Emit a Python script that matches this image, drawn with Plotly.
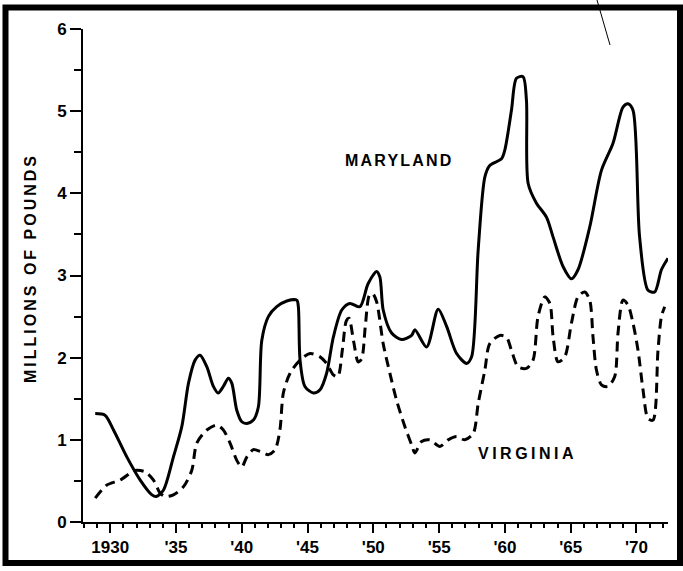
import plotly.graph_objects as go

# Maryland (solid) and Virginia (dashed), millions of pounds
maryland_years = [1928.86, 1929.6, 1930.25, 1931.27, 1932.28, 1933.17, 1933.5, 1934.05, 1934.8,
                  1935.44, 1935.95, 1936.45, 1936.83, 1937.34, 1937.84, 1938.2, 1938.6, 1938.98,
                  1939.24, 1939.62, 1940.0, 1940.38, 1940.88, 1941.26, 1941.52, 1942.02, 1942.66,
                  1943.42, 1944.18, 1944.3, 1944.43, 1944.8, 1945.44, 1945.95, 1946.45, 1946.96,
                  1947.6, 1948.22, 1948.98, 1949.6, 1950.25, 1950.5, 1950.75, 1951.39, 1952.15,
                  1952.91, 1953.16, 1954.05, 1954.93, 1955.57, 1956.33, 1957.09, 1957.47, 1957.97,
                  1958.48, 1958.85, 1959.74, 1960.0, 1960.5, 1960.88, 1961.38, 1961.64, 1961.77,
                  1962.4, 1963.16, 1963.66, 1964.42, 1965.06, 1965.56, 1966.45, 1967.34, 1968.22,
                  1968.98, 1969.36, 1969.74, 1970.24, 1970.88, 1971.39, 1971.9, 1972.4]
maryland_vals = [1.32, 1.30, 1.12, 0.79, 0.51, 0.33, 0.31, 0.39, 0.79,
                 1.16, 1.69, 1.97, 2.03, 1.89, 1.65, 1.57, 1.65, 1.75,
                 1.69, 1.36, 1.22, 1.20, 1.24, 1.40, 2.21, 2.50, 2.62,
                 2.69, 2.70, 2.62, 1.97, 1.65, 1.57, 1.61, 1.81, 2.25,
                 2.58, 2.66, 2.62, 2.90, 3.05, 2.98, 2.58, 2.30, 2.22,
                 2.27, 2.34, 2.13, 2.59, 2.38, 2.05, 1.93, 2.01, 3.31,
                 4.20, 4.34, 4.42, 4.53, 5.01, 5.40, 5.42, 5.13, 4.12,
                 3.88, 3.71, 3.47, 3.11, 2.96, 3.07, 3.59, 4.28, 4.61,
                 5.05, 5.09, 5.01, 3.47, 2.82, 2.80, 3.07, 3.21]

virginia_years = [1928.86, 1929.75, 1930.76, 1931.65, 1932.0, 1932.66, 1933.29, 1933.8, 1934.18,
                  1934.8, 1935.57, 1936.2, 1936.58, 1937.34, 1938.1, 1938.6, 1939.11, 1939.62,
                  1940.0, 1940.38, 1940.88, 1941.39, 1942.02, 1942.53, 1942.9, 1943.16, 1943.67,
                  1944.43, 1945.19, 1945.95, 1946.45, 1946.96, 1947.3, 1947.65, 1947.95, 1948.15,
                  1948.5, 1948.85, 1949.1, 1949.4, 1949.7, 1949.95, 1950.25, 1950.75, 1951.26,
                  1951.77, 1952.4, 1952.91, 1953.16, 1953.67, 1954.3, 1955.06, 1955.69, 1956.33,
                  1956.96, 1957.6, 1957.97, 1958.48, 1958.85, 1959.61, 1960.12, 1960.5, 1961.0,
                  1961.64, 1962.14, 1962.52, 1963.04, 1963.42, 1963.67, 1964.04, 1964.55, 1965.06,
                  1965.56, 1966.07, 1966.45, 1966.7, 1966.96, 1967.34, 1967.84, 1968.35, 1968.6,
                  1968.98, 1969.36, 1969.74, 1970.12, 1970.5, 1970.88, 1971.26, 1971.64, 1971.9,
                  1972.15]
virginia_vals = [0.29, 0.45, 0.51, 0.61, 0.63, 0.61, 0.51, 0.35, 0.31,
                 0.33, 0.43, 0.63, 0.96, 1.12, 1.18, 1.12, 0.96, 0.75,
                 0.67, 0.79, 0.88, 0.86, 0.82, 0.88, 1.12, 1.57, 1.81,
                 1.97, 2.05, 2.01, 1.93, 1.79, 1.77, 2.10, 2.45, 2.48,
                 2.20, 1.95, 1.98, 2.40, 2.76, 2.78, 2.68, 2.17, 1.81,
                 1.48, 1.16, 0.94, 0.84, 0.98, 1.00, 0.92, 1.00, 1.04,
                 1.00, 1.08, 1.44, 1.85, 2.17, 2.27, 2.25, 2.09, 1.89,
                 1.87, 1.97, 2.50, 2.74, 2.66, 2.25, 1.95, 2.01, 2.42,
                 2.74, 2.80, 2.70, 2.25, 1.85, 1.67, 1.65, 1.77, 2.30,
                 2.70, 2.64, 2.42, 2.09, 1.61, 1.26, 1.24, 2.09, 2.50,
                 2.62]

x_tickvals = [1930, 1935, 1940, 1945, 1950, 1955, 1960, 1965, 1970]
x_ticktext = ["1930", "'35", "'40", "'45", "'50", "'55", "'60", "'65", "'70"]
y_tickvals = [0, 1, 2, 3, 4, 5, 6]

W, H = 683, 571
ML, MR, MT, MB = 83, 15, 29, 49


def px_x(p):
    return (p - ML) / (W - ML - MR)


def px_y(p):
    return 1 - (p - MT) / (H - MT - MB)


def spaced(text, px):
    return '<span style="letter-spacing:%spx">%s</span>' % (px, text)


FONT = "Liberation Sans, Arial, sans-serif"

fig = go.Figure()

fig.add_trace(go.Scatter(x=maryland_years, y=maryland_vals, mode='lines', name='Maryland',
                         line=dict(color='black', width=3, shape='spline', smoothing=0.8)))
fig.add_trace(go.Scatter(x=virginia_years, y=virginia_vals, mode='lines', name='Virginia',
                         line=dict(color='black', width=3, dash='10px,6px', shape='spline', smoothing=0.8)))

fig.update_layout(
    width=W, height=H,
    margin=dict(l=ML, r=MR, t=MT, b=MB),
    paper_bgcolor='white', plot_bgcolor='white',
    showlegend=False,
    font=dict(family=FONT, color='black'),
    xaxis=dict(range=[1927.93, 1972.4], tickmode='array', tickvals=x_tickvals, ticktext=x_ticktext,
               showgrid=False, zeroline=False, showline=True, linecolor='black', linewidth=2,
               ticks='outside', ticklen=9, tickwidth=2, tickcolor='black',
               tickfont=dict(size=17, weight='bold', family=FONT),
               minor=dict(tickmode='linear', tick0=1928, dtick=1, ticks='outside', ticklen=4,
                          tickwidth=1.5, tickcolor='black', showgrid=False)),
    yaxis=dict(range=[0, 6], tickmode='array', tickvals=y_tickvals,
               showgrid=False, zeroline=False, showline=True, linecolor='black', linewidth=2,
               ticks='outside', ticklen=11, tickwidth=2, tickcolor='black',
               tickfont=dict(size=17, weight='bold', family=FONT),
               minor=dict(tickmode='linear', tick0=0, dtick=0.5, ticks='outside', ticklen=7,
                          tickwidth=1.5, tickcolor='black', showgrid=False)),
)

fig.add_annotation(text=spaced("MILLIONS OF POUNDS", 3), xref='paper', yref='paper',
                   x=px_x(30), y=px_y(268), xanchor='center', yanchor='middle',
                   textangle=-90, showarrow=False,
                   font=dict(size=16, weight='bold', family=FONT))
fig.add_annotation(text=spaced("MARYLAND", 2.2), xref='paper', yref='paper',
                   x=px_x(399), y=px_y(160), xanchor='center', yanchor='middle', showarrow=False,
                   font=dict(size=16, weight='bold', family=FONT))
fig.add_annotation(text=spaced("VIRGINIA", 3.5), xref='paper', yref='paper',
                   x=px_x(527), y=px_y(453), xanchor='center', yanchor='middle', showarrow=False,
                   font=dict(size=16, weight='bold', family=FONT))

# scanned frame and a stray pen stroke at the top
fig.add_shape(type='rect', xref='paper', yref='paper',
              x0=px_x(5.5), x1=px_x(680), y0=px_y(563), y1=px_y(7.5),
              line=dict(color='black', width=6), layer='above')
fig.add_shape(type='line', xref='paper', yref='paper',
              x0=px_x(597), x1=px_x(610), y0=px_y(0), y1=px_y(45),
              line=dict(color='black', width=1))

fig.write_html("out.html", config={'displayModeBar': False},
               post_script="document.body.style.margin='0';")
